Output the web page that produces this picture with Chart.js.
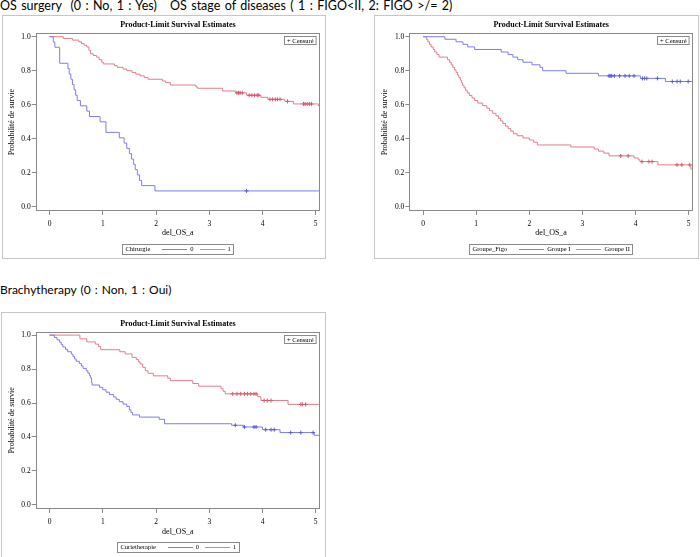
<!DOCTYPE html>
<html><head><meta charset="utf-8">
<script src="https://cdn.jsdelivr.net/npm/chart.js@4.4.1/dist/chart.umd.min.js"></script>
<style>
html,body{margin:0;padding:0;background:#fff;}
body{width:700px;height:557px;overflow:hidden;position:relative;}
.head{position:absolute;left:0;font-family:'Lato',sans-serif;line-height:14px;white-space:pre;color:#000;}
.frame{position:absolute;border:1px solid #c6c6c6;box-sizing:border-box;}
canvas{position:absolute;}
</style></head><body>
<div class="head" id="h1" style="top:-1px;font-size:12.5px;word-spacing:1.2px">OS surgery  (0 : No, 1 : Yes)   OS stage of diseases ( 1 : FIGO&lt;II, 2: FIGO &gt;/= 2)</div>
<div class="head" id="h2" style="top:283px;font-size:12px;word-spacing:1px">Brachytherapy (0 : Non, 1 : Oui)</div>
<div class="frame" style="left:2px;top:15px;width:324px;height:244px"></div>
<div class="frame" style="left:374px;top:15px;width:325px;height:244px"></div>
<div class="frame" style="left:1px;top:312px;width:325px;height:250px"></div>
<canvas id="c1" width="322" height="242" style="left:3px;top:16px"></canvas>
<canvas id="c2" width="322" height="242" style="left:376px;top:16px"></canvas>
<canvas id="c3" width="322" height="244" style="left:3px;top:313px"></canvas>
<script>
// ---------- texts & ticks ----------
const chartTitle = 'Product-Limit Survival Estimates';
const xTitle = 'del_OS_a';
const yTitle = 'Probabilité de survie';
const censorLabel = '+ Censuré';
const xTicks = [0, 1, 2, 3, 4, 5];
const yTicks = [0, 0.2, 0.4, 0.6, 0.8, 1.0];

// ---------- Panel 1 : Chirurgie ----------
const surgeryTitle = 'Chirurgie';
const surgeryGroups = ['0', '1'];
const surgery0Time = [0, 0.07, 0.1, 0.19, 0.345, 0.37, 0.4, 0.43, 0.46, 0.49, 0.52, 0.58, 0.7, 0.75, 0.95, 1.06, 1.31, 1.4, 1.45, 1.5, 1.54, 1.58, 1.61, 1.65, 1.69, 1.73, 1.98, 5.08];
const surgery0Surv = [1, 0.969, 0.938, 0.844, 0.813, 0.781, 0.75, 0.719, 0.688, 0.656, 0.625, 0.594, 0.563, 0.531, 0.5, 0.438, 0.406, 0.375, 0.344, 0.313, 0.281, 0.25, 0.219, 0.188, 0.156, 0.125, 0.094, 0.094];
const surgery0Censor = [3.7];
const surgery1Time = [0, 0.26, 0.43, 0.55, 0.6, 0.65, 0.7, 0.74, 0.77, 0.82, 0.88, 0.93, 0.98, 1.01, 1.22, 1.27, 1.38, 1.45, 1.55, 1.62, 1.7, 1.78, 1.85, 2.12, 2.18, 2.27, 2.75, 2.78, 3.25, 3.5, 3.7, 3.97, 4.1, 4.42, 4.58, 5.05, 5.08];
const surgery1Surv = [1, 0.99, 0.98, 0.97, 0.96, 0.95, 0.94, 0.92, 0.9, 0.89, 0.88, 0.865, 0.85, 0.84, 0.83, 0.82, 0.81, 0.8, 0.79, 0.78, 0.77, 0.76, 0.75, 0.74, 0.73, 0.716, 0.705, 0.697, 0.681, 0.67, 0.656, 0.644, 0.632, 0.62, 0.605, 0.593, 0.593];
const surgery1Censor = [3.52, 3.55, 3.58, 3.62, 3.75, 3.8, 3.85, 3.9, 3.93, 4.14, 4.19, 4.24, 4.28, 4.33, 4.47, 4.77, 4.8, 4.84, 4.88, 4.92];

// ---------- Panel 2 : Groupe_Figo ----------
const figoTitle = 'Groupe_Figo';
const figoGroups = ['Groupe I', 'Groupe II'];
const figo1Time = [0, 0.41, 0.62, 0.75, 0.84, 0.97, 1.47, 1.6, 1.69, 1.78, 1.88, 2.05, 2.2, 2.25, 2.69, 3.3, 4.09, 4.56, 5.06];
const figo1Surv = [1, 0.985, 0.97, 0.955, 0.94, 0.925, 0.91, 0.895, 0.88, 0.865, 0.85, 0.835, 0.82, 0.8, 0.785, 0.77, 0.755, 0.737, 0.737];
const figo1Censor = [3.5, 3.52, 3.55, 3.6, 3.7, 3.8, 3.88, 3.97, 4.13, 4.17, 4.21, 4.41, 4.69, 4.78, 4.84, 4.99];
const figo2Time = [0, 0.06, 0.09, 0.12, 0.15, 0.19, 0.22, 0.26, 0.3, 0.46, 0.5, 0.53, 0.56, 0.59, 0.62, 0.65, 0.67, 0.7, 0.72, 0.74, 0.77, 0.8, 0.83, 0.87, 0.92, 0.97, 1.03, 1.12, 1.2, 1.25, 1.31, 1.37, 1.42, 1.46, 1.5, 1.55, 1.6, 1.65, 1.7, 1.77, 1.88, 2.0, 2.08, 2.15, 2.78, 3.22, 3.3, 3.4, 3.5, 3.97, 4.05, 4.08, 4.42, 5.04, 5.06];
const figo2Surv = [1, 0.985, 0.97, 0.955, 0.94, 0.925, 0.91, 0.895, 0.88, 0.865, 0.85, 0.835, 0.82, 0.805, 0.79, 0.775, 0.76, 0.745, 0.73, 0.715, 0.7, 0.685, 0.67, 0.655, 0.64, 0.625, 0.61, 0.595, 0.58, 0.565, 0.55, 0.535, 0.52, 0.505, 0.49, 0.475, 0.46, 0.445, 0.43, 0.418, 0.405, 0.393, 0.38, 0.364, 0.352, 0.34, 0.328, 0.316, 0.3, 0.288, 0.277, 0.266, 0.247, 0.222, 0.222];
const figo2Censor = [3.72, 3.86, 4.12, 4.25, 4.31, 4.78, 4.87, 5.02];

// ---------- Panel 3 : Curietherapie ----------
const curieTitle = 'Curietherapie';
const curieGroups = ['0', '1'];
const curie0Time = [0, 0.09, 0.14, 0.19, 0.22, 0.25, 0.3, 0.34, 0.41, 0.44, 0.47, 0.5, 0.56, 0.6, 0.63, 0.69, 0.72, 0.75, 0.77, 0.79, 0.8, 0.94, 1.0, 1.06, 1.125, 1.2, 1.25, 1.31, 1.38, 1.45, 1.5, 1.53, 1.56, 1.69, 2.06, 2.16, 3.42, 3.64, 4.0, 4.33, 4.97, 5.07];
const curie0Surv = [1, 0.986, 0.972, 0.958, 0.944, 0.93, 0.916, 0.902, 0.888, 0.874, 0.86, 0.846, 0.832, 0.818, 0.804, 0.79, 0.776, 0.762, 0.748, 0.72, 0.706, 0.692, 0.678, 0.664, 0.65, 0.636, 0.622, 0.608, 0.594, 0.58, 0.56, 0.545, 0.53, 0.517, 0.504, 0.478, 0.469, 0.459, 0.443, 0.426, 0.41, 0.41];
const curie0Censor = [3.49, 3.66, 3.84, 3.88, 4.06, 4.16, 4.22, 4.53, 4.72, 4.95];
const curie1Time = [0, 0.57, 0.7, 0.86, 0.92, 0.96, 1.32, 1.42, 1.55, 1.63, 1.67, 1.7, 1.75, 1.8, 1.85, 1.95, 2.22, 2.27, 2.69, 2.8, 3.22, 3.26, 3.3, 3.91, 3.97, 4.48, 5.07];
const curie1Surv = [1, 0.978, 0.96, 0.947, 0.933, 0.914, 0.902, 0.889, 0.869, 0.856, 0.843, 0.83, 0.81, 0.79, 0.775, 0.76, 0.746, 0.732, 0.715, 0.699, 0.684, 0.669, 0.654, 0.637, 0.615, 0.592, 0.592];
const curie1Censor = [3.44, 3.52, 3.59, 3.66, 3.72, 3.78, 3.84, 3.88, 4.03, 4.09, 4.16, 4.72, 4.75, 4.81];

// ---------- styling ----------
const SERIF = "'Liberation Serif','Times New Roman',serif";
const AXIS = '#8a8a8a';
const LINE_COLORS = ['rgb(125,125,240)', 'rgb(228,125,140)'];
const CENSOR_COLORS = ['rgb(90,90,230)', 'rgb(215,90,110)'];

function survAt(times, surv, t) {
  let v = surv[0];
  for (let i = 0; i < times.length; i++) { if (times[i] <= t) v = surv[i]; }
  return v;
}

const framePlugin = {
  id: 'plotFrame',
  afterDatasetsDraw(chart) {
    const {ctx, chartArea: a} = chart;
    ctx.save();
    ctx.strokeStyle = AXIS; ctx.lineWidth = 1;
    const l = Math.round(a.left) + 0.5, r = Math.round(a.right) - 0.5;
    const t = Math.round(a.top) + 0.5, b = Math.round(a.bottom) - 0.5;
    ctx.strokeRect(l, t, r - l, b - t);
    // censored key
    ctx.font = '6.5px ' + SERIF;
    const w = ctx.measureText(censorLabel).width + 5;
    const bx = Math.round(a.right - 4 - w) + 0.5, by = Math.round(a.top + 3) + 0.5;
    ctx.fillStyle = '#fff'; ctx.fillRect(bx, by, w, 8);
    ctx.strokeRect(bx, by, w, 8);
    ctx.fillStyle = '#000'; ctx.textBaseline = 'middle'; ctx.textAlign = 'left';
    ctx.fillText(censorLabel, bx + 2.5, by + 4.3);
    ctx.restore();
  }
};

const legendPlugin = {
  id: 'kmLegend',
  afterDraw(chart, args, opts) {
    const {ctx, chartArea: a} = chart;
    ctx.save();
    ctx.font = '6.5px ' + SERIF;
    const tw = ctx.measureText(opts.title).width;
    const lw = opts.labels.map(s => ctx.measureText(s).width);
    const LINE = 25;
    const total = 3 + tw + 12 + LINE + 3 + lw[0] + 6 + LINE + 3 + lw[1] + 3;
    const cx = (a.left + a.right) / 2, cy = a.bottom + 38;
    const x0 = Math.round(cx - total / 2) + 0.5, y0 = Math.round(cy - 5) + 0.5;
    ctx.lineWidth = 1;
    ctx.strokeStyle = AXIS;
    ctx.strokeRect(x0, y0, Math.round(total), 10);
    ctx.textBaseline = 'middle'; ctx.textAlign = 'left';
    let x = x0 + 3;
    ctx.fillStyle = '#000';
    ctx.fillText(opts.title, x, cy + 0.5);
    x += tw + 12;
    for (let i = 0; i < 2; i++) {
      ctx.fillStyle = LINE_COLORS[i];
      ctx.fillRect(Math.round(x), Math.round(cy), LINE, 1);
      x += LINE + 3;
      ctx.fillStyle = '#000';
      ctx.fillText(opts.labels[i], x, cy + 0.5);
      x += lw[i] + 6;
    }
    ctx.restore();
  }
};

function makeKM(id, g, geo) {
  const datasets = [];
  g.series.forEach((s, i) => {
    datasets.push({
      type: 'line', label: g.labels[i],
      data: s.time.map((t, k) => ({x: t, y: s.surv[k]})),
      stepped: 'before', borderColor: LINE_COLORS[i], borderWidth: 1,
      pointRadius: 0, fill: false, order: 2
    });
  });
  g.series.forEach((s, i) => {
    datasets.push({
      type: 'scatter', label: g.labels[i] + ' censored',
      data: s.censor.map(t => ({x: t, y: survAt(s.time, s.surv, t)})),
      pointStyle: 'cross', pointRadius: 2, borderWidth: 1,
      borderColor: CENSOR_COLORS[i], backgroundColor: CENSOR_COLORS[i], order: 1
    });
  });
  return new Chart(document.getElementById(id), {
    data: {datasets},
    plugins: [framePlugin, legendPlugin],
    options: {
      responsive: false, animation: false, devicePixelRatio: 1,
      layout: {padding: {left: 4.2, right: geo.right, top: 0, bottom: geo.bottom}},
      plugins: {
        legend: {display: false}, tooltip: {enabled: false},
        title: {display: true, text: chartTitle, fullSize: false, color: '#000',
          font: {family: SERIF, size: 8, weight: 'bold'}, padding: {top: geo.tTop, bottom: geo.tBot}},
        kmLegend: {title: g.title, labels: g.labels}
      },
      scales: {
        x: {
          type: 'linear', min: -0.26, max: 5.08,
          afterBuildTicks: sc => { sc.ticks = xTicks.map(v => ({value: v})); },
          afterFit: sc => { sc.height = geo.xh; },
          ticks: {color: '#000', font: {family: SERIF, size: 7.5}, padding: 5, maxRotation: 0,
            callback: v => String(v)},
          grid: {display: true, drawOnChartArea: false, drawTicks: true, tickLength: 4, color: AXIS},
          border: {display: false},
          title: {display: true, text: xTitle, color: '#000', font: {family: SERIF, size: 8}, padding: 0}
        },
        y: {
          type: 'linear', min: -0.024, max: 1.02,
          afterBuildTicks: sc => { sc.ticks = yTicks.map(v => ({value: v})); },
          afterFit: sc => { sc.width = geo.yw; },
          ticks: {color: '#000', font: {family: SERIF, size: 7.5}, padding: 1,
            callback: v => Number(v).toFixed(1)},
          grid: {display: true, drawOnChartArea: false, drawTicks: true, tickLength: 4, color: AXIS},
          border: {display: false},
          title: {display: true, text: yTitle, color: '#000', font: {family: SERIF, size: 8}, padding: 0}
        }
      }
    }
  });
}

makeKM('c1', {
  title: surgeryTitle, labels: surgeryGroups,
  series: [
    {time: surgery0Time, surv: surgery0Surv, censor: surgery0Censor},
    {time: surgery1Time, surv: surgery1Surv, censor: surgery1Censor}
  ]
}, {right: 4.3, bottom: 20.2, tTop: 4.5, tBot: 3.2, yw: 28.5, xh: 26.8});

makeKM('c2', {
  title: figoTitle, labels: figoGroups,
  series: [
    {time: figo1Time, surv: figo1Surv, censor: figo1Censor},
    {time: figo2Time, surv: figo2Surv, censor: figo2Censor}
  ]
}, {right: 4.7, bottom: 20.2, tTop: 4.5, tBot: 3.2, yw: 29.1, xh: 26.8});

makeKM('c3', {
  title: curieTitle, labels: curieGroups,
  series: [
    {time: curie0Time, surv: curie0Surv, censor: curie0Censor},
    {time: curie1Time, surv: curie1Surv, censor: curie1Censor}
  ]
}, {right: 4.3, bottom: 20.5, tTop: 6.5, tBot: 2.6, yw: 28.5, xh: 27.5});
</script>
</body></html>
